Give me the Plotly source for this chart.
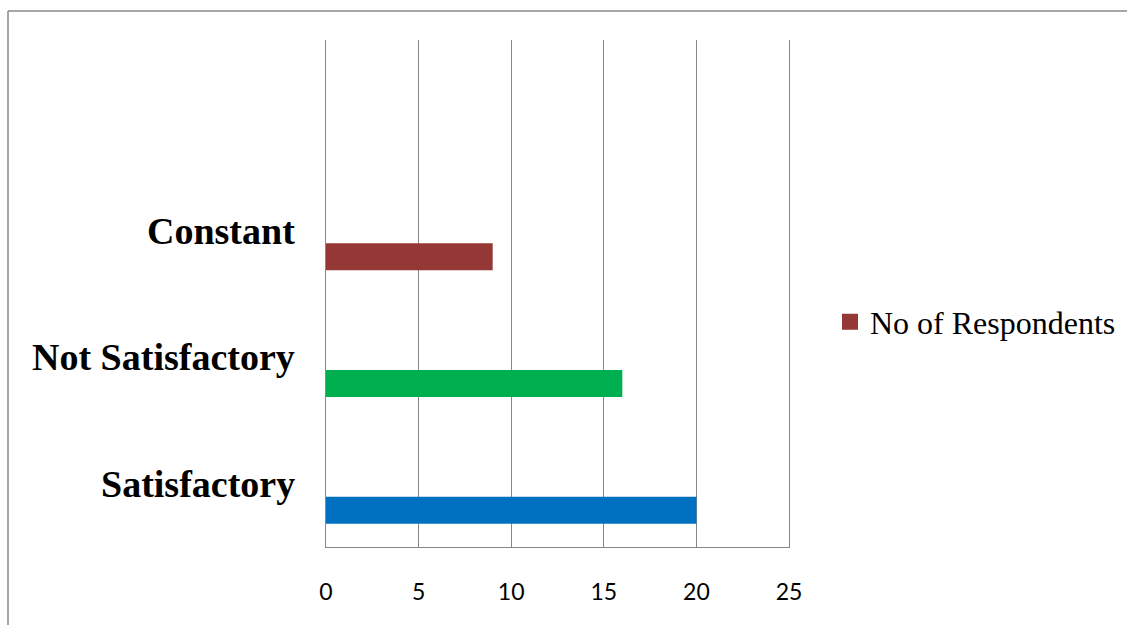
import plotly.graph_objects as go

categories = ["Constant", "Not Satisfactory", "Satisfactory"]
values = [9, 16, 20]
bar_colors = ["#953735", "#00B050", "#0070C0"]
series_name = "No of Respondents"
x_ticks = [0, 5, 10, 15, 20, 25]

W, H = 1127, 625
L, R, T, B = 326, 338, 40, 78
pw, ph = W - L - R, H - T - B

fig = go.Figure()
fig.add_trace(go.Bar(
    y=categories, x=values, orientation="h",
    marker=dict(color=bar_colors, line=dict(width=0)),
    width=0.213, showlegend=False, hoverinfo="x+y",
))
fig.add_trace(go.Scatter(
    x=[None], y=[None], mode="markers", name=series_name, yaxis="y2",
    marker=dict(symbol="square", size=16, color=bar_colors[0]),
    showlegend=True,
))

annotations = []
for c in categories:
    annotations.append(dict(
        x=0, xref="paper", y=c, yref="y", text="<b>" + c + "</b>", showarrow=False,
        xanchor="right", yanchor="middle", xshift=-29, yshift=26,
        font=dict(family="Liberation Serif", size=38, color="black"),
    ))

def px(xp):
    return (xp - L) / pw

def py(yp):
    return (H - B - yp) / ph

shapes = [
    dict(type="line", xref="paper", yref="paper", x0=px(8), x1=px(1130), y0=py(11), y1=py(11),
         line=dict(color="#888888", width=1.5)),
    dict(type="line", xref="paper", yref="paper", x0=px(8), x1=px(8), y0=py(11), y1=py(630),
         line=dict(color="#888888", width=1.5)),
]

fig.update_layout(
    width=W, height=H,
    margin=dict(l=L, r=R, t=T, b=B, autoexpand=False),
    paper_bgcolor="white", plot_bgcolor="white",
    showlegend=True,
    legend=dict(x=px(830), xanchor="left", y=py(322), yanchor="middle",
                font=dict(family="Liberation Serif", size=32, color="black"),
                bgcolor="rgba(0,0,0,0)"),
    xaxis=dict(range=[0, 25], tickvals=x_ticks, ticktext=[str(v) for v in x_ticks],
               showgrid=True, gridcolor="#888888", gridwidth=1,
               showline=True, linecolor="#888888", linewidth=1, zeroline=False,
               ticks="", ticklabelstandoff=24,
               tickfont=dict(family="Lato", size=23, color="black"), fixedrange=True),
    yaxis=dict(type="category", categoryorder="array",
               categoryarray=["Satisfactory", "Not Satisfactory", "Constant"],
               range=[-0.29, 3.71], showticklabels=False, showgrid=False,
               showline=True, linecolor="#888888", linewidth=1, zeroline=False,
               fixedrange=True),
    yaxis2=dict(overlaying="y", side="right", anchor="x", range=[0, 1],
                showticklabels=False, showgrid=False, zeroline=False, ticks="",
                showline=True, linecolor="#888888", linewidth=1, fixedrange=True),
    annotations=annotations,
    shapes=shapes,
)

fig.write_html("out.html")
